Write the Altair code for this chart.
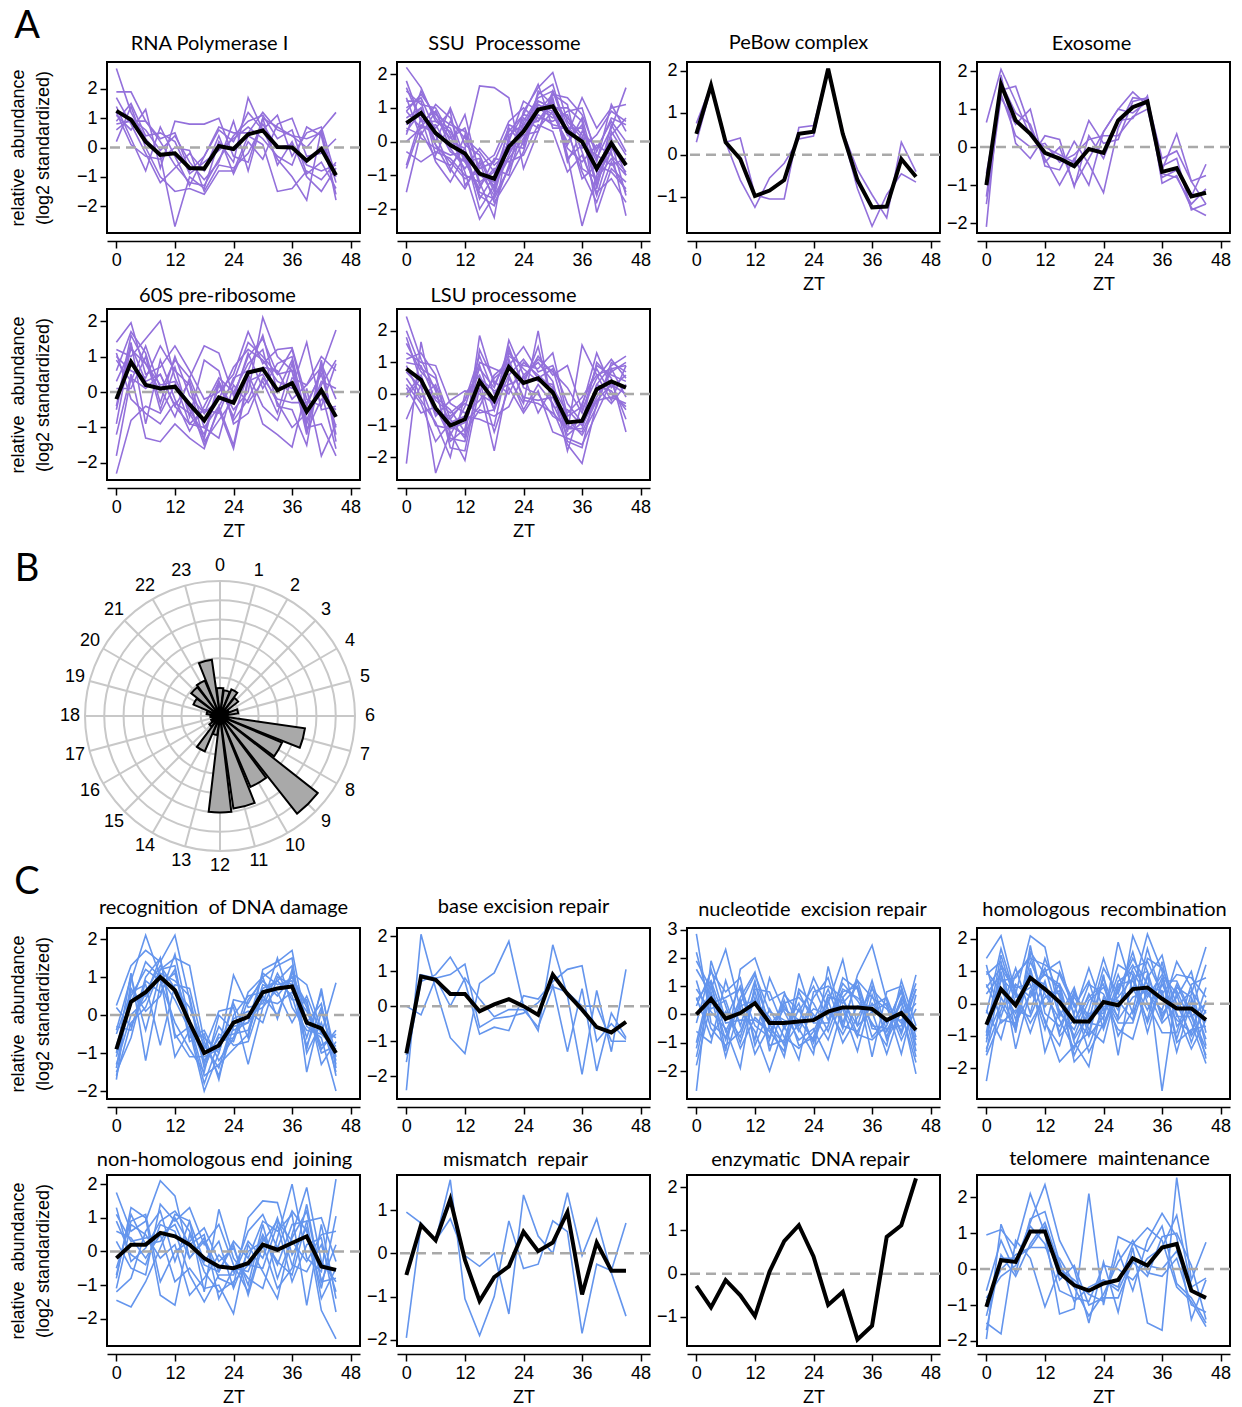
import altair as alt
import pandas as pd

# ---------------------------------------------------------------- data
ZT = [0, 3, 6, 9, 12, 15, 18, 21, 24, 27, 30, 33, 36, 39, 42, 45]

PURPLE = "#9370DB"
BLUE = "#6495ED"

# ----- A: RNA Polymerase I
RNAPOL_MEAN = [1.25, 0.95, 0.2, -0.25, -0.2, -0.7, -0.72, 0.05, -0.05, 0.45, 0.58, 0.02, 0.0, -0.45, -0.05, -0.95]
RNAPOL_LINES = [
    [2.7, 1.2, 0.3, -0.3, -2.7, -1.0, -1.4, 0.2, -0.5, 1.7, 0.6, -0.4, -1.0, -1.8, 0.6, -1.8],
    [1.9, 1.9, 0.9, 0.2, -0.6, -1.2, -1.3, -0.4, 0.4, 0.9, 1.1, 0.3, 0.6, -0.9, -0.5, -1.4],
    [1.1, 0.6, 1.3, -0.7, 0.9, 0.8, 0.8, 1.0, -0.3, -0.5, 1.0, 0.7, 0.4, 0.0, 0.6, 1.2],
    [0.2, 1.4, 0.0, -1.0, -1.5, -1.4, -1.6, -0.8, -0.8, 0.4, 0.1, -1.5, -1.4, -0.8, -1.1, -0.5],
    [1.4, 0.3, -0.8, 0.7, -0.3, -1.3, -0.3, 0.6, 0.2, 1.2, 0.6, 1.1, -0.3, 0.5, 0.7, -1.0],
    [0.6, 1.0, 0.6, -0.1, 0.4, -0.5, -1.1, -0.5, 0.9, -0.8, 1.0, -0.6, 0.2, -1.0, -1.5, -0.7],
    [1.7, 0.8, -0.2, -1.2, -0.7, -0.2, -0.8, 0.4, -0.9, 0.2, -0.4, 0.8, 1.0, -0.3, -0.2, 0.3],
    [0.9, 1.5, 0.4, 0.5, 0.2, -0.9, -0.5, -0.1, 0.3, 0.7, 0.3, -0.3, -0.6, 0.7, 0.4, -1.6],
    [1.2, 0.1, -0.3, -0.4, 0.0, -0.1, -1.5, -0.6, -0.7, -0.2, 0.8, 0.0, 0.1, -0.6, -0.8, -0.6],
    [0.8, 0.9, 0.9, 0.3, 0.5, -0.8, -0.3, 0.7, 0.5, 0.5, 1.2, 0.6, 0.4, 0.3, 0.5, -1.2],
]

# ----- A: SSU Processome
SSU_MEAN = [0.55, 0.85, 0.25, -0.1, -0.35, -0.95, -1.1, -0.15, 0.3, 0.95, 1.05, 0.3, 0.0, -0.8, -0.05, -0.7]
SSU_LINES = [
    [2.2, 1.6, 0.6, 0.3, -0.5, -1.6, -1.9, -0.7, 0.6, 1.3, 1.5, 0.3, -0.9, -1.8, -0.6, -1.5],
    [1.5, 1.1, 1.0, 0.2, -0.9, -2.3, -1.6, -0.8, 0.9, 1.6, 2.05, 0.6, 0.1, -0.9, 0.1, -1.0],
    [0.9, 1.4, 0.8, 0.5, 0.3, -1.2, -2.25, 0.2, 0.5, 1.2, 1.0, 1.0, 0.6, -1.4, 0.3, -0.4],
    [-1.5, 0.3, -0.5, -0.7, -0.2, 1.65, 1.6, 1.3, -0.8, 0.3, 1.5, 0.5, -0.2, 0.2, 0.9, 0.6],
    [0.3, 0.9, -0.1, -0.6, -1.1, -0.9, -1.3, -0.5, 0.1, 0.9, 1.2, -0.4, -2.5, -1.0, -0.3, -2.2],
    [1.8, 0.6, 0.9, 0.0, -0.2, -1.7, -1.0, 0.3, 0.8, 0.7, 0.6, 0.9, 1.0, -0.5, 0.4, 1.6],
    [-0.8, 0.5, 0.2, -0.8, -1.4, -0.6, -1.8, -1.1, -0.3, 1.1, 0.8, 0.0, 0.5, -2.1, -0.8, -1.2],
    [1.2, 1.2, -0.4, 0.6, 0.1, -0.3, -0.9, 0.0, 1.2, 0.9, 1.4, 1.3, 0.8, -0.3, 0.7, 0.5],
    [0.0, 0.4, 0.5, -0.3, -0.6, -1.4, -0.5, -0.6, -0.4, 0.5, 0.3, -0.9, -0.4, -1.5, -1.1, -1.8],
    [0.7, 1.0, 0.0, 1.0, -0.1, -0.4, -1.4, 0.5, 0.3, 1.4, 1.7, 0.2, 1.3, 0.4, 1.0, 1.1],
    [0.4, 0.2, 0.9, -0.2, -0.8, -0.2, -0.7, -0.3, 0.7, 0.4, 0.9, -0.2, -0.6, -0.1, -0.4, -0.9],
    [1.0, 1.3, 0.3, -0.1, 0.8, -1.0, -1.2, -0.1, -0.2, 1.5, 1.1, 0.7, 0.2, -1.2, 0.5, -0.3],
    [-0.7, 0.7, -0.6, -1.2, -0.4, -1.5, -1.7, -0.8, 0.0, 0.8, 0.5, 0.4, -1.1, -0.7, -0.9, -1.4],
    [0.6, 0.8, 0.4, 0.9, -1.3, -0.7, -0.4, 0.6, 1.0, 0.6, 1.3, -0.6, 0.3, -0.2, 0.6, 0.0],
    [1.3, 0.1, -0.2, -0.4, -0.3, -2.0, -1.3, -0.4, 0.4, 1.0, 0.7, 0.8, -0.3, -1.6, -0.2, -0.7],
    [0.2, 1.5, 0.7, 0.1, 0.4, -0.8, -0.6, 0.4, -0.1, 1.1, 0.9, -0.1, 0.7, -0.9, 0.2, 0.7],
    [-0.3, -0.6, -0.3, -0.5, -1.0, -1.2, -0.9, -0.3, 0.2, 0.3, 1.4, 1.1, -0.8, -1.1, -0.5, -1.0],
    [1.6, 0.6, 0.6, 0.4, -0.6, -0.5, -1.5, 0.1, 0.8, 1.7, 0.4, 0.4, 0.4, -0.6, 1.1, 0.3],
    [0.5, 1.0, -0.1, -0.9, 0.2, -1.3, -0.8, -1.0, 0.5, 0.6, 1.2, -0.5, -0.1, -0.4, -0.7, -0.5],
    [0.9, 0.4, 1.1, 0.7, -0.5, -0.9, -1.6, 0.0, 0.0, 1.2, 1.0, 0.2, 0.1, -1.3, 0.0, -1.6],
]

# ----- A: PeBow complex
PEBOW_MEAN = [0.5, 1.65, 0.3, -0.1, -0.98, -0.85, -0.6, 0.5, 0.55, 2.05, 0.5, -0.6, -1.25, -1.23, -0.1, -0.52]
PEBOW_LINES = [
    [0.75, 1.65, 0.3, 0.4, -0.95, -1.05, -1.05, 0.65, 0.7, 2.05, 0.55, -0.35, -0.95, -1.5, 0.3, -0.4],
    [0.3, 1.6, 0.3, -0.6, -1.25, -0.55, -0.2, 0.38, 0.45, 2.0, 0.5, -0.8, -1.7, -0.95, -0.45, -0.65],
]

# ----- A: Exosome
EXO_MEAN = [-1.0, 1.65, 0.7, 0.35, -0.15, -0.3, -0.5, -0.05, -0.15, 0.7, 1.05, 1.2, -0.65, -0.55, -1.3, -1.2]
EXO_LINES = [
    [0.65, 2.05, 1.2, 0.3, 0.0, -0.2, -0.4, 0.7, 0.1, 0.2, 1.2, 1.3, -0.6, 0.35, -0.9, -1.5],
    [-1.3, 1.5, 1.6, 0.5, -0.3, -1.0, -0.3, -1.0, 0.4, 1.0, 1.45, 1.1, -0.8, -0.6, -1.3, -0.45],
    [-2.1, 1.9, 0.1, -0.3, 0.3, 0.2, -1.05, 0.3, -0.3, 0.7, 0.75, 1.35, -0.95, -0.75, -1.6, -1.8],
    [-1.5, 1.3, 0.6, 1.0, -0.5, -0.6, 0.15, -0.45, -1.2, 0.5, 1.3, 1.25, -0.3, -0.1, -0.9, -0.75],
    [-1.0, 1.7, 0.9, 0.6, -0.4, 0.0, -1.0, -0.3, 0.4, 1.0, 0.9, 1.2, -0.7, -0.8, -1.5, -1.1],
    [-0.7, 1.4, 0.3, 0.0, 0.1, -0.4, -0.2, 0.2, 0.3, 0.3, 0.8, 1.0, -0.5, -0.3, -1.65, -1.5],
]

# ----- A: 60S pre-ribosome
S60_MEAN = [-0.2, 0.85, 0.2, 0.1, 0.15, -0.35, -0.8, -0.15, -0.3, 0.55, 0.65, 0.05, 0.25, -0.55, 0.05, -0.7]
S60_LINES = [
    [-2.3, -0.8, -0.4, -0.6, 0.2, -0.3, -1.5, -0.5, -1.6, 0.3, 0.5, -0.3, -1.0, -0.6, 0.0, -1.6],
    [1.4, 1.95, 0.5, 0.7, 1.3, 0.6, -0.2, 0.0, 0.5, 1.7, 0.8, 1.2, 1.25, -0.2, -0.4, 0.8],
    [1.2, 1.0, 1.5, 2.0, 0.4, -0.5, -1.2, 0.3, -0.5, 0.0, 2.1, 1.0, 0.6, -1.2, 0.9, -1.4],
    [-1.2, 0.5, -1.3, -1.4, -0.9, -1.3, -1.6, -0.4, -1.5, 0.4, -0.9, -1.2, -1.55, 0.1, -1.8, -0.9],
    [0.3, 1.2, 0.8, 0.0, 0.9, 0.4, 1.3, 1.1, -0.1, 1.0, 1.5, 0.5, 1.2, -0.4, 0.6, 1.75],
    [-1.8, 0.4, 0.1, 0.5, -0.4, -0.9, -1.0, -1.3, 0.2, -0.3, 0.3, -0.6, 0.8, -1.0, -0.9, -1.8],
    [0.6, 1.7, 1.1, -0.3, 1.0, -0.1, -0.6, -0.2, 0.7, 1.2, 0.9, 0.3, 0.1, 1.4, -0.5, -0.4],
    [-0.5, 1.4, -0.9, 0.9, -0.2, -1.1, -0.4, 0.4, 0.0, 0.8, 1.2, -0.4, -0.5, -1.5, 0.8, -0.2],
    [1.0, 0.6, 0.4, 1.3, 0.6, 0.2, -1.4, -0.8, -0.2, 1.1, 0.1, 0.8, 1.0, -0.8, 0.3, 0.1],
    [0.1, 0.1, 1.0, -0.5, 0.7, -0.7, 0.9, 0.6, -0.9, -0.6, 0.4, -0.2, -0.3, -0.3, 0.5, -1.0],
    [-0.9, 1.3, 0.3, 0.5, -0.4, 0.3, -1.0, -0.4, 0.3, 1.4, 1.0, 0.5, 0.6, -0.9, 0.2, 0.9],
    [1.1, -0.2, -0.6, -0.9, -0.3, -0.6, -1.3, 0.2, -0.7, 0.5, -0.4, -0.8, 0.4, 0.2, 0.7, -1.2],
    [-0.4, 1.6, 0.8, 0.2, 0.3, -0.9, -0.5, -0.6, 0.4, 0.6, 1.6, 0.0, 0.9, -1.1, -0.2, -0.5],
    [0.9, 0.3, 1.3, 0.1, -0.7, 0.4, -0.6, 0.3, -0.8, -0.2, 0.7, 0.6, -0.2, 0.2, 1.0, 0.6],
]

# ----- A: LSU processome
LSU_MEAN = [0.8, 0.45, -0.45, -1.0, -0.8, 0.4, -0.2, 0.85, 0.35, 0.5, 0.05, -0.9, -0.85, 0.15, 0.4, 0.2]
LSU_LINES = [
    [2.45, 1.1, 0.1, -1.5, -1.1, 0.9, -0.5, 1.7, 0.6, 1.0, 0.4, -1.5, -1.7, 0.3, 0.9, 1.2],
    [-2.2, 1.65, -0.5, -0.8, -1.4, 1.85, 0.3, 1.2, 0.9, 0.8, 1.3, -0.7, -0.4, 1.3, 0.2, 0.6],
    [1.8, 0.4, -2.5, -1.2, -2.1, 0.2, -1.8, 0.5, -0.3, 2.0, -0.5, -1.6, -2.2, -0.3, 0.8, -0.1],
    [0.5, -0.2, -0.9, -2.0, 0.0, 0.6, -0.5, 1.3, 0.8, 0.4, 0.3, -1.2, 1.55, 0.6, -0.2, 0.9],
    [1.3, 1.0, 0.9, -0.3, -0.6, -0.2, 0.5, 0.9, 1.5, 0.7, 0.9, -0.3, -0.9, 1.0, 0.5, -1.2],
    [0.2, -0.6, -0.4, -1.4, -1.5, 0.4, -1.2, 0.2, -0.6, 0.1, -1.2, -1.4, -1.6, -0.6, 0.4, -0.8],
    [1.0, 0.9, -0.2, -0.6, -0.2, 1.2, 0.0, 0.8, 0.4, 1.2, 0.6, 0.9, -0.5, 0.5, 1.1, 0.5],
    [0.7, 0.2, -1.0, -1.1, -0.9, -0.4, 0.6, 1.0, -0.1, -0.2, -0.1, -1.1, -0.8, 0.2, -0.3, 0.3],
    [2.0, 0.8, 0.5, -0.8, -0.2, 0.8, 0.2, 1.4, 0.3, 1.5, -0.4, -0.5, -1.0, -0.1, 0.7, 1.0],
    [-0.8, 0.3, -0.1, -0.5, -1.2, -0.5, -0.7, -0.4, 0.6, -0.6, 0.2, -1.8, -0.3, 0.8, 0.0, -0.4],
    [1.1, 1.3, 0.6, -1.3, -0.4, 1.0, 0.8, 0.6, 1.1, 0.5, 0.8, -0.8, -1.3, -0.4, 1.0, 0.7],
    [0.3, -0.3, -1.5, -0.9, -0.7, -0.8, -1.0, 1.1, -0.2, -0.3, -0.6, -1.1, -1.1, 0.3, 0.1, -0.5],
    [1.6, 0.7, 0.2, -1.7, -1.8, 0.5, 0.1, 0.3, 0.5, 1.1, 0.7, 0.2, -0.6, 0.9, 0.6, 0.4],
    [0.0, 0.6, -0.7, -0.2, 0.1, 0.0, -0.3, 1.5, 0.2, 0.0, -0.7, -1.0, -1.2, -0.2, 0.3, 0.0],
    [0.9, -0.1, 0.3, -1.0, -1.3, 1.4, 0.4, 0.0, 1.0, 0.6, 0.2, -0.6, -0.1, 0.6, 0.8, 0.9],
    [-0.1, 0.5, -0.6, -0.7, -0.3, -0.6, -0.5, 0.6, -0.5, 0.3, -0.3, -1.3, -0.9, -0.2, -0.1, -0.3],
]

# ----- B: rose diagram of peak phases
HOURS = [0, 1, 2, 3, 4, 5, 6, 7, 8, 9, 10, 11, 12, 13, 14, 15, 16, 17, 18, 19, 20, 21, 22, 23]
PHASE_COUNTS = [1.45, 1.35, 1.5, 1.2, 0.5, 0.95, 0.4, 4.45, 3.5, 6.45, 4.0, 4.85, 5.0, 1.0, 2.0,
                0.7, 0.5, 0.4, 0.5, 0.7, 1.5, 1.9, 2.0, 2.95]
RINGS = [1, 2, 3, 4, 5, 6, 7]

# ----- C: recognition of DNA damage
RECOG_MEAN = [-0.9, 0.35, 0.6, 1.0, 0.65, -0.2, -1.0, -0.8, -0.2, -0.05, 0.6, 0.7, 0.75, -0.2, -0.35, -1.0]
RECOG_LINES = [
    [-1.7, 0.9, 2.1, 1.0, 0.4, -0.4, -2.0, -1.0, 0.3, -0.6, 1.2, 1.4, 1.7, -0.3, -0.6, -2.0],
    [0.25, 1.3, 1.7, 1.4, 2.1, 0.4, -1.4, -0.5, -0.7, 0.4, 0.9, 0.5, 1.0, 0.2, -1.0, -0.8],
    [-1.3, 0.0, 0.4, 1.2, 1.5, 1.3, -0.7, -1.6, -0.3, -0.2, 1.1, 0.8, 0.9, -0.9, 0.7, -1.4],
    [-0.3, -0.4, 1.0, 1.5, -0.5, -1.1, -1.1, -0.9, 1.05, 0.2, 0.3, 1.5, 0.2, -0.4, -0.5, 0.85],
    [-1.0, 1.1, -1.2, 0.8, 1.1, -0.2, -1.6, -1.3, -0.9, -0.5, 0.7, 0.9, 1.3, -1.5, 0.1, -1.2],
    [-0.5, 0.6, 0.8, -0.8, 0.8, 0.7, -0.9, 0.1, 0.2, -1.3, 0.2, 1.1, 0.4, 0.4, -1.3, -0.7],
    [-1.6, -0.2, 0.2, 1.2, 1.3, -0.6, -0.4, -1.2, -0.6, 0.6, 1.0, -0.1, 1.2, -0.2, 0.3, -1.6],
    [-0.9, 0.5, 1.2, 0.9, -0.2, -0.9, -1.5, 0.0, -0.4, -0.2, 0.4, 0.3, 0.6, 0.1, -0.8, -0.5],
    [0.2, -0.3, 0.6, 1.3, 0.7, 0.2, -0.8, -1.4, -0.1, 0.1, -0.2, 1.0, 0.8, -0.6, 0.6, -1.1],
    [-1.4, 0.7, 0.1, 0.5, 1.6, -0.2, -1.2, -0.6, -0.5, -0.4, 0.8, 0.6, -0.2, 0.5, -0.5, -0.9],
    [-1.1, 0.3, 1.4, 1.0, -1.1, -0.4, -0.6, -1.0, 0.4, 0.3, 1.0, 1.3, 1.5, -1.0, -0.2, -1.5],
    [-0.4, 1.0, -0.4, 1.1, 0.9, 0.5, -1.3, -0.3, -0.8, -0.7, 0.5, 0.0, 1.1, 0.8, -0.4, -0.6],
    [-1.5, -0.6, 0.9, 0.6, 1.2, -0.7, -0.5, -1.7, 0.0, 0.5, 0.6, 0.9, 0.5, -0.8, 0.2, -1.3],
    [-0.8, 0.4, 0.5, 1.5, -0.6, -0.3, -1.8, -0.7, -0.6, 0.0, 0.2, 0.7, 1.0, 0.3, -0.9, -0.4],
]

# ----- C: base excision repair
BER_MEAN = [-1.35, 0.85, 0.75, 0.35, 0.35, -0.15, 0.05, 0.2, 0.0, -0.25, 0.9, 0.35, -0.1, -0.6, -0.75, -0.45]
BER_LINES = [
    [-2.4, 2.05, 0.5, -0.9, -1.35, 0.65, 0.95, 1.85, 0.0, -0.7, 1.75, 0.3, -1.95, 0.45, -1.3, 1.05],
    [-1.6, 0.7, 0.9, 1.4, 0.7, -0.8, -0.6, -0.7, 0.3, 0.2, 0.7, 1.05, 1.15, -1.0, -0.5, -0.95],
    [0.0, -0.25, 0.8, 0.9, 1.2, -0.6, -0.35, -0.3, -0.2, 0.1, 0.6, -1.3, 0.5, -1.85, -0.2, -0.9],
    [-1.4, 0.9, 0.8, 0.0, 0.8, 0.2, -0.3, -0.1, -0.1, -0.6, 0.55, 0.4, 0.0, 0.0, -1.0, -1.0],
]

# ----- C: nucleotide excision repair
NER_MEAN = [0.0, 0.55, -0.15, 0.05, 0.4, -0.3, -0.3, -0.25, -0.2, 0.1, 0.25, 0.25, 0.2, -0.2, 0.05, -0.55]
NER_LINES = [
    [2.85, -0.3, -0.8, 0.6, 1.5, -0.5, -1.0, 0.2, -1.0, 0.4, 1.95, -0.4, 0.1, -1.4, 0.2, -2.1],
    [-2.7, 1.9, 0.3, -1.2, -0.1, -0.6, -1.3, 1.45, -0.2, 0.9, -0.5, 1.4, 2.45, 0.5, -0.6, 1.4],
    [1.9, 0.9, 2.3, 0.2, -0.6, -2.0, -0.4, -1.6, 0.8, 1.0, 0.6, -0.7, -0.9, -0.4, 0.9, -1.3],
    [-1.0, 1.2, -1.3, 1.6, 2.0, 0.5, 0.8, -0.5, -1.4, 1.7, -0.3, 1.2, 0.6, 0.2, -0.3, 1.1],
    [0.9, 0.1, -0.5, -1.9, 1.1, -0.3, -1.5, 0.9, 0.4, -0.6, 0.8, 1.0, -1.5, 0.8, 1.0, -0.8],
    [-1.8, 0.4, 0.6, 0.9, -0.9, 1.3, 0.1, -0.9, -0.5, -1.6, 0.3, -0.8, 1.0, -0.9, 0.1, -1.7],
    [1.2, -0.5, -1.1, -0.6, 0.8, -0.9, 0.7, 0.1, 1.0, -0.2, 1.1, 0.5, -0.3, -1.1, 1.2, -0.4],
    [0.3, 1.5, 0.8, 1.3, -1.1, 0.2, -0.8, -1.2, -0.6, 0.5, -1.0, -0.1, 0.9, 0.3, -1.4, 0.7],
    [-0.6, -1.0, 1.2, -0.4, 1.2, -1.3, 0.4, 0.6, 0.0, -0.9, 0.6, 1.2, -0.5, -0.6, 0.5, -1.5],
    [1.6, 0.7, -1.5, 0.3, 0.5, -0.1, -1.1, -0.3, 1.3, 0.2, -0.7, 0.3, 0.3, 0.6, -0.7, 0.9],
    [-0.3, 1.6, -0.2, 1.0, -0.4, -0.8, 0.5, -1.1, -0.8, 0.6, 0.5, -0.4, 1.2, -0.6, 0.4, -0.9],
    [0.6, -0.8, 0.1, -0.8, 0.9, 0.8, -0.5, 0.4, -1.2, -0.4, 1.3, 0.9, -0.8, -0.2, -0.2, 0.4],
    [-1.2, 1.0, -0.6, 0.5, -1.4, -0.4, 0.3, -0.6, 0.6, 1.3, -0.4, -0.6, 0.4, -0.3, 0.8, -1.1],
    [2.2, 0.2, 0.5, -1.0, 0.6, -1.1, -0.9, 0.8, -0.3, -0.3, 0.9, 0.6, 0.1, 0.4, -0.9, 0.2],
    [-1.5, 0.8, -0.9, 0.4, 1.4, 0.1, -0.2, -0.4, 0.2, 0.0, 0.2, -1.3, 0.7, -0.8, 0.6, -0.6],
    [0.5, 1.2, -0.3, -0.2, -0.2, -0.6, 0.2, -0.2, -0.9, 0.7, 0.4, 1.0, -0.4, -0.5, -0.4, 0.9],
]

# ----- C: homologous recombination
HR_MEAN = [-0.65, 0.45, -0.05, 0.8, 0.45, 0.05, -0.55, -0.55, 0.05, -0.05, 0.45, 0.5, 0.15, -0.15, -0.15, -0.5]
HR_LINES = [
    [-2.4, 0.2, -0.7, 1.6, 0.9, 0.5, -1.2, -1.95, 0.2, -0.4, 2.1, 1.0, -2.7, 0.4, -0.6, -1.85],
    [1.4, 2.1, 0.3, 2.1, 1.75, -0.3, -0.8, 0.3, -0.5, 1.9, 0.4, 2.15, 1.0, -1.1, 0.3, 1.75],
    [-1.0, 1.0, -1.4, 0.4, -0.5, -1.8, -1.3, -0.9, 0.9, -1.6, 0.9, -0.6, 0.6, -0.3, -1.4, -0.5],
    [0.6, -0.4, 0.9, 1.4, 1.2, 0.9, -0.1, 0.7, -0.8, 0.5, 1.2, 0.3, -0.2, 1.3, 0.5, -1.3],
    [-1.5, 0.8, 0.3, -0.6, 0.2, 0.4, -1.8, -1.3, -0.1, 0.1, -0.5, 1.4, 1.1, 0.0, -1.0, -0.2],
    [0.9, 1.3, -0.9, 1.8, -0.3, -0.7, 0.2, -0.5, 1.1, 0.3, 1.6, 0.0, -0.9, -0.9, 0.6, 0.8],
    [-0.2, -1.1, 0.6, 0.2, 1.0, 1.3, -0.4, -1.0, -0.4, 0.9, -0.3, 0.8, 1.5, -0.4, -0.4, -1.6],
    [-0.9, 1.5, 0.0, 1.0, -1.5, -0.2, -1.0, 0.1, 0.5, -0.2, 1.1, 1.3, 0.3, 0.9, 0.8, 0.2],
    [1.0, 0.4, -0.3, 0.8, 0.6, -0.9, 0.4, -0.8, -1.2, 0.6, 0.7, -0.2, 0.8, -1.2, -0.8, -0.7],
    [-1.4, -0.2, 1.1, -0.3, 1.4, 0.2, -0.6, 0.6, 0.3, -0.6, -0.6, 0.9, -0.4, 0.5, 0.2, -1.1],
    [0.3, 0.9, -0.5, 1.3, 0.3, -0.5, -1.4, -0.2, 1.4, 0.0, 0.5, -0.5, 1.3, -0.7, -0.2, 1.2],
    [-1.2, 1.2, 0.5, 0.6, -0.8, 1.0, 0.0, -1.5, -0.6, 0.4, 1.4, 0.6, -0.3, 0.2, 1.0, -0.9],
    [1.2, -0.6, -0.2, -0.4, 0.7, -1.0, -0.5, 0.2, 0.6, -1.0, -0.2, 1.7, 0.2, -0.5, -0.9, 0.5],
    [-0.6, 0.7, 0.8, 1.5, -0.1, 0.6, -1.1, -0.3, -0.3, 1.2, 0.9, -0.9, 0.7, 0.7, -0.3, -1.4],
    [-1.6, -0.5, -0.6, 0.3, 1.1, -0.4, 0.5, -1.0, 0.8, -0.5, 0.2, 0.4, -0.6, -0.1, 0.4, -0.3],
    [0.5, 1.1, 0.4, -0.9, 0.4, 0.3, -1.6, -0.6, -0.7, 0.7, 1.0, 0.2, 0.9, 0.3, -1.2, 0.1],
    [-1.1, 0.0, -0.8, 1.1, -0.6, -1.3, 0.3, -0.4, 0.1, -0.8, -1.1, 0.5, 0.4, -1.5, 0.1, -1.7],
    [-0.3, 1.7, 0.2, 0.5, 0.9, 0.6, -0.3, 1.1, -0.2, 0.2, 0.8, 1.0, -0.5, 0.6, -0.4, 0.0],
]

# ----- C: non-homologous end joining
NHEJ_MEAN = [-0.2, 0.2, 0.2, 0.55, 0.45, 0.2, -0.2, -0.45, -0.5, -0.35, 0.2, 0.05, 0.25, 0.45, -0.45, -0.55]
NHEJ_LINES = [
    [1.75, 0.6, 0.9, 2.1, 1.65, -0.2, 0.3, -0.8, -1.0, 1.0, 1.5, 1.45, -0.1, 0.7, -1.75, -2.6],
    [-1.45, -1.65, -0.9, 0.1, 1.1, 0.9, -1.2, 1.25, -0.2, -0.8, -1.1, 0.4, 2.0, -0.2, -0.6, 2.15],
    [1.1, 0.3, 0.4, 0.5, -0.9, -0.5, -1.1, -1.0, -1.85, 0.2, -0.6, -1.4, 0.5, 1.9, -0.3, -0.9],
    [-0.8, 1.3, 1.0, -1.3, -1.6, 0.5, -0.4, -0.6, 0.3, -0.2, 0.9, 0.6, 1.1, -1.6, 0.8, -1.4],
    [0.3, -0.5, -0.7, 1.4, 0.9, 1.3, 0.2, 0.8, -0.4, -1.2, 0.4, -0.3, -0.7, 0.9, 1.0, -0.3],
    [-1.1, 0.8, 0.5, -0.2, 0.2, -1.3, -0.8, -0.1, -0.6, 0.6, 1.1, 0.1, 1.2, 0.6, -1.1, 1.05],
    [1.3, -0.3, 0.1, 0.9, 1.2, 0.6, -0.6, -1.2, -0.9, -0.4, -0.5, 0.8, -0.9, 0.2, 0.4, -1.8],
    [-0.5, 0.9, 1.1, -0.9, 0.0, 0.3, 0.7, -0.3, 0.1, -1.0, 0.8, -0.8, 0.4, 1.2, -0.9, 0.2],
    [0.9, -0.1, -0.4, 0.8, 0.6, -0.7, -1.5, -0.7, -0.7, 0.3, -0.2, 1.0, -0.4, -0.6, 0.2, -1.2],
    [-0.7, 1.1, 0.2, 0.3, 1.0, 0.2, 0.5, -1.4, -0.5, -0.6, 0.5, -0.4, 0.8, 0.9, -1.4, -0.5],
    [-1.2, -0.8, 0.6, 1.2, -0.3, 0.9, -0.3, 0.3, -1.1, 0.0, 0.3, 0.9, 0.3, -0.3, 0.5, 0.6],
    [0.6, 0.4, -0.2, 0.5, 0.8, -0.2, 0.4, -0.6, 0.2, -1.3, 0.2, -1.1, -0.5, 1.4, -0.9, -0.8],
]

# ----- C: mismatch repair
MMR_MEAN = [-0.5, 0.65, 0.3, 1.25, -0.15, -1.1, -0.55, -0.3, 0.5, 0.05, 0.25, 0.95, -0.95, 0.25, -0.4, -0.4]
MMR_LINES = [
    [0.95, 0.7, 0.3, 0.8, -0.05, -0.3, 0.0, -1.4, 1.35, 0.4, 0.0, 1.4, -0.05, 0.8, -0.45, -1.45],
    [-1.95, 0.65, 0.3, 1.7, -1.05, -1.9, -1.0, 0.75, -0.35, -0.25, 0.75, 0.5, -1.85, -0.25, -0.4, 0.7],
]

# ----- C: enzymatic DNA repair (single protein)
ENZ_MEAN = [-0.28, -0.78, -0.15, -0.5, -0.98, 0.05, 0.75, 1.12, 0.4, -0.72, -0.42, -1.52, -1.2, 0.85, 1.12, 2.2]
ENZ_LINES = []

# ----- C: telomere maintenance
TEL_MEAN = [-1.05, 0.25, 0.2, 1.05, 1.05, -0.1, -0.45, -0.6, -0.4, -0.3, 0.3, 0.1, 0.6, 0.7, -0.6, -0.8]
TEL_LINES = [
    [0.95, 1.1, 0.6, 2.1, 1.0, -1.25, -1.1, 2.1, -1.0, 0.9, 0.7, 1.15, 0.8, -0.5, -0.9, -1.6],
    [-1.95, 1.25, 0.2, 1.3, 2.35, 0.8, 0.0, -1.5, 0.2, -1.2, 0.6, -1.5, -1.7, 2.55, -0.3, 0.75],
    [-1.5, -1.8, 0.8, 0.3, -1.05, 0.0, -0.3, -0.7, -0.9, 0.5, -0.6, 0.8, 1.55, 0.9, -1.4, -0.3],
    [-0.6, 0.8, -0.1, 1.4, 1.6, 0.2, -0.9, -0.5, -0.3, -0.5, 0.7, 0.5, 1.2, -0.4, -0.8, -1.5],
    [-1.3, 0.3, 0.3, 0.6, 1.2, -0.3, 0.1, -1.0, -0.8, -0.8, 0.2, -0.2, 0.9, 1.0, 0.1, -1.4],
    [-0.8, -0.2, 0.1, 1.2, 0.7, -0.6, -0.8, -0.9, 0.1, 0.0, -0.3, 0.3, 0.6, 1.5, -0.5, -0.25],
    [-1.7, 0.4, -0.2, 0.7, 1.3, 0.1, -0.5, -1.3, -0.7, 0.2, 0.8, -0.1, -0.2, 0.3, -1.0, -1.2],
    [-0.9, 0.0, 0.4, 0.6, 0.6, 0.3, -0.4, -0.6, -0.3, -0.6, 0.3, 0.1, 0.0, 0.5, -0.6, -0.8],
]

PANEL_LETTERS = ["A", "B", "C"]

# ---------------------------------------------------------------- layout
PW, PH = 253, 171
TICK_FONT = "Liberation Sans"
TITLE_FONT = "Lato"
NB = "\u00a0"
YTITLE = ["relative" + NB * 2 + "abundance", "(log2" + NB + "standardized)"]


def long_table(lines):
    rows = []
    for g, vals in enumerate(lines):
        for t, v in zip(ZT, vals):
            rows.append({"ZT": t, "v": v, "gene": g})
    return pd.DataFrame(rows)


def letter_layer(lab, px, py):
    return alt.Chart(pd.DataFrame({"lab": [lab]})).mark_text(
        font=TITLE_FONT, fontSize=38, align="center", baseline="middle", color="black"
    ).encode(text="lab:N", x=alt.value(px), y=alt.value(py))


def panel(title, lines, mean, color, ydom, yticks, ylab, zt, tdx, toff):
    X = alt.X(
        "ZT:Q",
        scale=alt.Scale(domain=[-1.92, 49.92], nice=False, zero=False),
        axis=alt.Axis(values=[0, 12, 24, 36, 48], title="ZT" if zt else None,
                      offset=8, domain=True, titlePadding=6),
    )
    Y = alt.Y(
        "v:Q",
        scale=alt.Scale(domain=ydom, nice=False, zero=False),
        axis=alt.Axis(values=yticks, title=YTITLE if ylab else None, domain=False,
                      titlePadding=24, titleLineHeight=25),
    )
    layers = []
    if lines:
        layers.append(
            alt.Chart(long_table(lines)).mark_line(color=color, strokeWidth=1.6)
            .encode(x=X, y=Y, detail="gene:N")
        )
    layers.append(
        alt.Chart(pd.DataFrame({"v": [0]})).mark_rule(
            color="#A9A9A9", strokeDash=[10, 6], strokeWidth=2.5
        ).encode(y=Y)
    )
    layers.append(
        alt.Chart(pd.DataFrame({"ZT": ZT, "v": mean})).mark_line(
            color="black", strokeWidth=4, strokeJoin="miter"
        ).encode(x=X, y=Y)
    )
    return alt.layer(*layers).properties(
        width=PW, height=PH,
        title=alt.TitleParams(title.replace("  ", NB * 2), dx=tdx, offset=toff),
    )


def blank(h):
    return alt.Chart(pd.DataFrame({"a": [0]})).mark_point(opacity=0).properties(
        width=PW, height=h, view=alt.ViewBackground(strokeOpacity=0)
    )


# ---- polar rose (B)
POL_H = 296
CX, CY = 113, 160
rscale = alt.Scale(type="linear", domain=[0, 7], range=[0, 135], zero=True)
pol_df = pd.DataFrame({"hour": HOURS, "count": PHASE_COUNTS})
ring_df = pd.DataFrame({"ring": RINGS})

rings = alt.Chart(ring_df).transform_calculate(a0="0", a1="2*PI").mark_arc(
    filled=False, stroke="#C8C8C8", strokeWidth=2
).encode(
    theta=alt.Theta("a0:Q", scale=None, stack=False), theta2="a1:Q",
    radius=alt.Radius("ring:Q", scale=rscale),
    x=alt.value(CX), y=alt.value(CY),
)
spokes = alt.Chart(pol_df).transform_calculate(a="datum.hour*PI/12", outer="7").mark_arc(
    filled=False, stroke="#C8C8C8", strokeWidth=2
).encode(
    theta=alt.Theta("a:Q", scale=None, stack=False), theta2="a:Q",
    radius=alt.Radius("outer:Q", scale=rscale),
    x=alt.value(CX), y=alt.value(CY),
)
wedges = alt.Chart(pol_df).transform_calculate(
    a0="(datum.hour-0.45)*PI/12", a1="(datum.hour+0.45)*PI/12"
).mark_arc(fill="#A9A9A9", stroke="black", strokeWidth=2, strokeJoin="miter").encode(
    theta=alt.Theta("a0:Q", scale=None, stack=False), theta2="a1:Q",
    radius=alt.Radius("count:Q", scale=rscale),
    x=alt.value(CX), y=alt.value(CY),
)
hour_labels = alt.Chart(pol_df).transform_calculate(a="datum.hour*PI/12").mark_text(
    font=TICK_FONT, fontSize=18, color="black", align="center", baseline="middle"
).encode(
    theta=alt.Theta("a:Q", scale=None, stack=False),
    radius=alt.value(150),
    text="hour:N",
    x=alt.value(CX), y=alt.value(CY),
)
# section letters live in the title-less polar panel so they do not push panel titles
polar = alt.layer(
    rings, spokes, wedges, hour_labels,
    letter_layer(PANEL_LETTERS[0], -80, -529),
    letter_layer(PANEL_LETTERS[1], -80, 14),
    letter_layer(PANEL_LETTERS[2], -80, 327),
).properties(width=PW, height=POL_H, view=alt.ViewBackground(strokeOpacity=0))

cells = [
    panel("RNA Polymerase I", RNAPOL_LINES, RNAPOL_MEAN, PURPLE, [-2.92, 2.92], [-2, -1, 0, 1, 2], True, False, -24, 8),
    panel("SSU  Processome", SSU_LINES, SSU_MEAN, PURPLE, [-2.71, 2.36], [-2, -1, 0, 1, 2], False, False, -19, 8),
    panel("PeBow complex", PEBOW_LINES, PEBOW_MEAN, PURPLE, [-1.86, 2.21], [-1, 0, 1, 2], False, True, -15, 8),
    panel("Exosome", EXO_LINES, EXO_MEAN, PURPLE, [-2.26, 2.24], [-2, -1, 0, 1, 2], False, True, -12, 8),
    panel("60S pre-ribosome", S60_LINES, S60_MEAN, PURPLE, [-2.48, 2.34], [-2, -1, 0, 1, 2], True, True, -16, 3),
    panel("LSU processome", LSU_LINES, LSU_MEAN, PURPLE, [-2.72, 2.69], [-2, -1, 0, 1, 2], False, True, -20, 3),
    blank(PH), blank(PH),
    polar, blank(1), blank(1), blank(1),
    panel("recognition  of DNA damage", RECOG_LINES, RECOG_MEAN, BLUE, [-2.21, 2.29], [-2, -1, 0, 1, 2], True, False, -10, 10),
    panel("base excision repair", BER_LINES, BER_MEAN, BLUE, [-2.65, 2.23], [-2, -1, 0, 1, 2], False, False, 0, 10),
    panel("nucleotide  excision repair", NER_LINES, NER_MEAN, BLUE, [-2.99, 3.06], [-2, -1, 0, 1, 2, 3], False, False, -1, 1),
    panel("homologous  recombination", HR_LINES, HR_MEAN, BLUE, [-2.95, 2.34], [-2, -1, 0, 1, 2], False, False, 1, 8),
    panel("non-homologous end  joining", NHEJ_LINES, NHEJ_MEAN, BLUE, [-2.81, 2.27], [-2, -1, 0, 1, 2], True, True, -9, 5),
    panel("mismatch  repair", MMR_LINES, MMR_MEAN, BLUE, [-2.14, 1.81], [-2, -1, 0, 1], False, True, -8, 5),
    panel("enzymatic  DNA repair", ENZ_LINES, ENZ_MEAN, BLUE, [-1.67, 2.28], [-1, 0, 1, 2], False, True, -3, 0),
    panel("telomere  maintenance", TEL_LINES, TEL_MEAN, BLUE, [-2.14, 2.62], [-2, -1, 0, 1, 2], False, True, 6, 5),
]

chart = alt.concat(
    *cells, columns=4, align="each", bounds="flush",
    spacing={"row": 76, "column": 37},
).properties(padding=0).configure_view(
    stroke="black", strokeWidth=2
).configure_axis(
    labelFont=TICK_FONT, labelFontSize=18, labelColor="black",
    tickColor="black", tickSize=7, tickWidth=1.5,
    domainColor="black", domainWidth=1.5, grid=False, labelPadding=3,
    titleFont=TICK_FONT, titleFontSize=18, titleFontWeight="normal", titleColor="black",
).configure_title(
    font=TITLE_FONT, fontSize=20, fontWeight="normal", color="black", anchor="middle"
)

chart.save("out.html", embed_options={"renderer": "svg", "actions": False})
